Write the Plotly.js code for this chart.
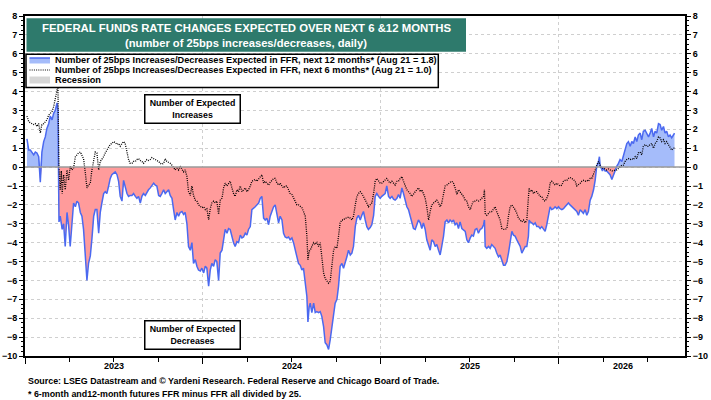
<!DOCTYPE html>
<html>
<head>
<meta charset="utf-8">
<script src="https://cdn.plot.ly/plotly-3.0.1.min.js"></script>
<style>html,body{margin:0;padding:0;background:#fff;}#chart{width:711px;height:400px;}</style>
</head>
<body>
<div id="chart"></div>
<script>
// x positions as fractional years (daily series)
const yearPos = [
2023.011,2023.021,2023.030,2023.039,2023.049,2023.058,2023.067,2023.077,2023.086,2023.095,
2023.105,2023.114,2023.123,2023.133,2023.142,2023.152,2023.161,2023.170,2023.180,2023.185,
2023.191,2023.198,2023.204,2023.209,2023.217,2023.226,2023.236,2023.245,2023.254,2023.264,
2023.273,2023.283,2023.292,2023.301,2023.311,2023.320,2023.329,2023.339,2023.348,2023.357,
2023.367,2023.376,2023.386,2023.395,2023.404,2023.414,2023.423,2023.432,2023.442,2023.451,
2023.460,2023.470,2023.479,2023.488,2023.498,2023.507,2023.517,2023.526,2023.535,2023.545,
2023.554,2023.563,2023.573,2023.582,2023.591,2023.601,2023.610,2023.620,2023.629,2023.638,
2023.648,2023.657,2023.666,2023.676,2023.685,2023.694,2023.704,2023.713,2023.723,2023.732,
2023.741,2023.751,2023.760,2023.769,2023.779,2023.788,2023.797,2023.807,2023.816,2023.826,
2023.835,2023.844,2023.854,2023.863,2023.872,2023.882,2023.891,2023.900,2023.910,2023.919,
2023.929,2023.938,2023.947,
2023.957,2023.966,2023.975,2023.985,2023.994,2024.004,2024.013,2024.022,2024.032,2024.041,
2024.050,2024.060,2024.069,2024.078,2024.088,2024.097,2024.107,2024.116,2024.125,2024.135,
2024.144,2024.153,2024.163,2024.172,2024.181,2024.191,2024.200,2024.210,2024.219,2024.228,
2024.238,2024.247,2024.256,2024.266,2024.275,2024.284,2024.294,2024.303,2024.313,2024.322,
2024.331,2024.341,2024.350,2024.359,2024.369,2024.378,2024.388,2024.397,2024.406,2024.416,
2024.425,2024.434,2024.444,2024.453,2024.462,2024.472,2024.481,2024.490,2024.500,2024.509,
2024.519,2024.528,2024.537,2024.547,2024.556,2024.565,2024.575,2024.584,2024.590,2024.597,
2024.603,2024.612,2024.622,2024.631,2024.640,2024.650,2024.659,2024.668,2024.678,2024.687,
2024.696,2024.706,2024.715,2024.725,2024.734,2024.743,2024.753,2024.762,2024.771,2024.781,
2024.790,2024.799,2024.809,2024.818,
2024.828,2024.837,2024.846,2024.856,2024.865,2024.874,2024.884,2024.893,2024.902,2024.912,
2024.921,2024.930,2024.940,2024.949,2024.959,2024.968,2024.977,2024.987,2024.996,2025.005,
2025.015,2025.024,2025.033,2025.043,2025.052,2025.062,2025.071,2025.080,2025.090,2025.099,
2025.108,2025.118,2025.127,2025.136,2025.146,2025.155,2025.165,2025.174,2025.183,2025.193,
2025.202,2025.211,2025.221,2025.230,2025.239,2025.249,2025.258,2025.268,2025.277,2025.286,
2025.296,2025.305,2025.314,2025.324,2025.333,2025.342,2025.352,2025.361,2025.371,2025.380,
2025.389,2025.399,2025.408,2025.417,2025.427,2025.436,2025.445,2025.455,2025.464,2025.474,
2025.483,2025.492,2025.502,2025.511,2025.520,2025.530,2025.539,2025.548,2025.558,2025.567,
2025.577,2025.582,2025.586,2025.595,2025.605,2025.614,2025.623,2025.633,2025.642,2025.651,
2025.661,2025.670,2025.680,2025.689,2025.698,2025.708,2025.717,2025.726,2025.736,2025.745,
2025.754,2025.764,2025.773,2025.783,2025.792,2025.801,2025.811,
2025.820,2025.829,2025.833,2025.839,2025.848,2025.858,2025.867,2025.876,2025.886,2025.895,
2025.904,2025.914,2025.923,2025.932,2025.942,2025.951,2025.960,2025.970,2025.979,2025.989,
2025.998,2026.007,2026.017,2026.026,2026.035,2026.045,2026.054,2026.063,2026.073,2026.082,
2026.092,2026.101,2026.110,2026.120,2026.129,2026.138,2026.148,2026.157,2026.166,2026.176,
2026.185,2026.195,2026.204,2026.213,2026.223,2026.228,2026.232,2026.238,2026.245,2026.251,
2026.260,2026.269,2026.279,2026.288,2026.298,2026.307,2026.316,2026.326,2026.335,2026.344,
2026.354,2026.363,2026.372,2026.382,2026.391,2026.401,2026.410,2026.419,2026.429,2026.438,
2026.447,2026.457,2026.466,2026.475,2026.485,2026.494,2026.504,2026.513,2026.522,2026.532,
2026.541,2026.550,2026.560,2026.569,2026.578,2026.588,2026.597,2026.606,2026.616,2026.625,
2026.634,2026.644,2026.650
];

// Number of 25bps increases/decreases expected, next 12 months
const next12m = [
1.5,0.9,0.9,0.8,0.65,0.8,0.75,0.55,-0.8,0.8,
1.35,1.6,2.05,2.3,2.7,2.5,2.85,3.0,3.4,3.0,
-2.9,-2.6,-3.2,-3.3,-3.0,-4.2,-2.4,-3.1,-4.2,-3.1,
-1.9,-2.1,-1.8,-1.9,-2.4,-2.6,-3.3,-4.7,-6.0,-5.1,
-4.7,-3.8,-2.6,-2.25,-2.25,-3.5,-2.4,-1.9,-1.4,-1.3,
-1.4,-1.0,-0.6,-0.4,-0.3,-0.25,-0.4,-0.75,-1.55,-1.8,
-0.7,-1.0,-1.4,-1.55,-1.5,-1.5,-1.4,-1.55,-1.65,-1.55,
-1.9,-1.55,-1.4,-1.5,-1.3,-1.2,-1.1,-1.0,-0.85,-0.95,
-1.0,-1.5,-1.55,-1.4,-1.2,-1.4,-1.3,-1.2,-1.5,-1.65,
-2.25,-2.8,-2.4,-2.6,-2.4,-2.35,-2.5,-2.4,-3.0,-4.2,
-4.4,-4.0,-5.1,
-4.9,-5.25,-5.45,-5.5,-5.35,-5.6,-5.25,-5.35,-6.3,-5.45,
-5.1,-5.25,-4.9,-5.0,-6.0,-4.55,-4.4,-3.85,-3.3,-3.5,
-3.25,-3.3,-3.7,-4.0,-4.2,-3.95,-4.0,-3.6,-3.75,-3.7,
-3.5,-3.6,-3.3,-3.15,-2.25,-2.2,-2.1,-2.0,-1.9,-1.65,
-1.55,-2.7,-2.8,-2.7,-3.05,-2.6,-2.35,-2.1,-2.0,-2.45,
-2.95,-2.6,-2.8,-3.5,-3.7,-3.75,-3.7,-3.85,-3.75,-4.0,
-4.4,-4.75,-5.1,-5.2,-5.45,-5.35,-6.0,-6.85,-8.2,-7.4,
-7.2,-7.7,-7.2,-7.7,-7.65,-7.7,-7.65,-7.9,-8.45,-9.3,
-9.4,-9.65,-9.15,-8.45,-7.55,-7.2,-7.0,-6.3,-5.25,-5.1,
-5.35,-5.1,-4.75,-4.4,
-4.65,-4.55,-4.2,-3.15,-2.7,-2.55,-2.8,-2.55,-2.35,-2.8,
-3.15,-3.3,-3.2,-3.05,-2.55,-1.55,-1.4,-1.55,-1.65,-1.55,
-1.45,-1.4,-1.0,-1.55,-1.65,-1.55,-1.7,-1.75,-1.65,-1.45,
-1.65,-1.1,-1.4,-1.75,-2.1,-2.25,-2.6,-2.8,-3.25,-3.3,
-3.05,-2.8,-2.95,-3.25,-2.95,-3.3,-3.85,-4.2,-4.4,-3.85,
-3.95,-4.2,-4.1,-4.4,-4.65,-4.2,-3.65,-2.9,-2.8,-2.95,
-2.8,-2.9,-2.8,-3.05,-2.95,-3.25,-2.9,-3.25,-3.3,-3.4,
-3.85,-4.0,-3.75,-3.6,-3.65,-3.3,-3.25,-3.5,-3.3,-3.25,
-3.05,-2.8,-4.2,-4.3,-4.2,-4.3,-4.1,-4.2,-4.3,-4.55,
-4.75,-4.65,-5.0,-5.2,-5.2,-5.0,-4.55,-4.0,-3.4,-3.6,
-3.65,-3.85,-4.0,-4.2,-4.55,-4.4,-4.2,
-4.2,-3.65,-2.8,-2.9,-2.95,-3.05,-2.95,-3.15,-3.15,-3.25,
-3.15,-3.3,-3.4,-3.05,-2.6,-2.1,-2.25,-2.2,-2.1,-2.2,
-2.1,-2.2,-2.25,-2.2,-2.1,-2.0,-1.9,-2.0,-2.1,-2.2,
-2.25,-2.35,-2.55,-2.25,-2.35,-2.45,-2.25,-2.55,-2.35,-1.75,
-1.55,-1.2,-0.7,0.05,0.3,0.55,0.1,-0.05,-0.2,-0.05,
-0.2,-0.2,-0.3,-0.4,-0.65,-0.4,-0.2,0.05,0.2,0.4,
0.3,0.65,0.9,1.25,1.35,1.1,1.35,1.25,1.6,1.35,
1.7,1.8,1.45,1.9,1.95,1.8,1.6,1.8,2.05,1.6,
1.9,1.8,2.3,2.25,1.95,2.15,1.8,1.9,1.6,1.7,
1.55,1.7,1.8
];

// Number of 25bps increases/decreases expected, next 6 months
const next6m = [
2.7,2.4,2.35,2.3,2.25,2.3,2.15,2.3,1.8,2.25,
2.3,2.4,2.5,2.75,2.85,2.95,3.2,3.55,4.1,4.3,
0.0,-1.2,-0.2,-1.4,-0.4,-1.2,-0.15,-0.7,0.05,-0.15,
-0.05,0.55,0.65,0.75,0.8,0.65,0.45,-0.3,-1.1,-0.95,
-0.85,-0.15,0.45,0.8,0.75,-0.15,0.3,0.4,0.55,0.75,
0.9,1.0,1.2,1.25,1.35,1.3,1.2,1.25,1.1,1.25,
1.35,1.25,0.75,0.4,0.2,0.2,0.3,0.3,0.4,0.45,
0.35,0.3,0.2,0.3,0.4,0.35,0.4,0.5,0.45,0.4,
0.35,0.3,0.2,0.15,0.2,0.45,0.3,0.25,0.2,0.1,
-0.05,-0.15,-0.05,-0.15,0.05,-0.15,-0.25,-0.15,-0.5,-1.3,
-1.5,-1.0,-1.5,
-1.75,-1.8,-2.0,-2.1,-2.15,-2.1,-2.25,-2.2,-2.8,-2.2,
-1.9,-1.8,-1.9,-1.8,-2.5,-1.75,-1.65,-1.1,-0.85,-1.0,
-0.85,-0.75,-1.1,-1.4,-1.55,-1.2,-1.3,-1.0,-1.3,-1.2,
-1.1,-1.3,-1.2,-1.0,-0.75,-0.7,-0.65,-0.75,-0.6,-0.5,
-0.4,-0.85,-0.75,-0.85,-0.95,-0.8,-0.7,-0.6,-0.6,-0.85,
-0.95,-0.85,-1.0,-1.1,-1.0,-1.0,-1.2,-1.4,-1.45,-1.65,
-1.8,-2.0,-2.0,-2.1,-2.15,-2.35,-2.6,-3.65,-4.9,-4.45,
-4.4,-4.2,-4.0,-4.1,-3.95,-4.2,-4.0,-4.75,-5.6,-5.9,
-6.0,-6.15,-6.05,-5.25,-4.4,-4.2,-4.3,-3.65,-2.95,-2.8,
-2.8,-2.7,-2.7,-2.65,
-2.7,-2.8,-2.6,-2.0,-1.55,-1.4,-1.3,-1.4,-1.55,-1.75,
-1.9,-2.1,-2.0,-1.9,-1.4,-0.75,-0.6,-0.75,-0.85,-0.85,
-0.75,-0.7,-0.6,-0.75,-0.85,-0.75,-0.85,-0.95,-0.75,-0.75,
-0.6,-0.5,-0.75,-1.0,-1.2,-1.3,-1.4,-1.55,-1.4,-1.3,
-1.2,-1.1,-1.3,-1.2,-1.4,-1.65,-2.1,-2.8,-2.35,-2.0,
-1.9,-1.8,-1.75,-1.9,-2.1,-1.9,-1.4,-1.0,-0.95,-0.85,
-0.8,-0.75,-0.85,-1.1,-1.45,-1.2,-1.3,-1.4,-1.55,-1.75,
-1.8,-2.1,-2.25,-2.0,-1.8,-1.8,-1.75,-1.8,-1.75,-1.65,
-1.55,-1.2,-2.45,-2.55,-2.45,-2.35,-2.35,-2.2,-2.1,-2.35,
-2.55,-2.8,-3.25,-3.3,-3.3,-3.25,-2.6,-2.1,-2.0,-2.1,
-2.25,-2.45,-2.7,-2.8,-2.9,-2.8,-2.95,
-2.8,-1.75,-1.1,-1.3,-1.2,-1.4,-1.3,-1.3,-1.45,-1.55,
-1.55,-1.75,-1.8,-1.65,-1.4,-0.85,-0.75,-0.85,-0.95,-0.85,
-0.95,-1.0,-0.95,-0.75,-0.7,-0.7,-0.6,-0.55,-0.6,-0.7,
-0.75,-1.0,-0.95,-0.85,-0.75,-0.7,-0.75,-0.7,-0.75,-0.6,
-0.6,-0.4,-0.15,0.1,0.3,0.2,0.05,-0.05,-0.05,-0.05,
-0.1,-0.15,-0.1,-0.15,-0.2,-0.2,-0.15,-0.15,-0.05,0.05,
0.1,0.1,0.3,0.4,0.45,0.4,0.45,0.4,0.55,0.45,
0.75,0.8,0.65,1.1,1.2,1.1,1.1,1.2,1.25,1.0,
1.25,1.35,1.6,1.55,1.35,1.45,1.25,1.35,1.2,1.1,
0.9,1.0,1.0
];

const yearTicks = [2023, 2024, 2025, 2026];
const quarterTicks = [2023.25,2023.5,2023.75,2024.25,2024.5,2024.75,2025.25,2025.5,2025.75,2026.25,2026.5];
const yearLabels = ['2023','2024','2025','2026'];
const yearLabelPos = [2023.5, 2024.5, 2025.5, 2026.36];

const FONT = 'Arial, "Liberation Sans", sans-serif';
const abovePart = next12m.map(v => Math.max(v, 0));
const belowPart = next12m.map(v => Math.min(v, 0));

const traces = [
  {x: yearPos, y: belowPart, type: 'scatter', mode: 'lines', fill: 'tozeroy',
   fillcolor: 'rgb(255,155,155)', line: {width: 0, color: 'rgba(0,0,0,0)'}, showlegend: false, hoverinfo: 'skip'},
  {x: yearPos, y: abovePart, type: 'scatter', mode: 'lines', fill: 'tozeroy',
   fillcolor: 'rgb(165,188,250)', line: {width: 0, color: 'rgba(0,0,0,0)'}, showlegend: false, hoverinfo: 'skip'},
  {x: yearPos, y: next12m, type: 'scatter', mode: 'lines',
   line: {width: 1.5, color: 'rgb(75,105,240)'}, showlegend: false},
  {x: yearPos, y: next6m, type: 'scatter', mode: 'lines', yaxis: 'y2',
   line: {width: 1.3, color: '#000', dash: '1px,1.2px'}, showlegend: false}
];

const px = v => (v - 25) / 660;      // paper x from pixel
const py = v => (356 - v) / 340;     // paper y from pixel

const shapes = [
  {type: 'line', xref: 'paper', yref: 'y', x0: 0, x1: 1, y0: 0, y1: 0, line: {color: '#9a9a9a', width: 1.5}},
  {type: 'rect', xref: 'paper', yref: 'paper', x0: px(26.5), x1: px(466), y0: py(51.7), y1: py(18.3),
   fillcolor: '#2e7a6c', line: {width: 0}},
  {type: 'rect', xref: 'paper', yref: 'paper', x0: px(26), x1: px(438.3), y0: py(87.5), y1: py(54.3),
   fillcolor: '#fff', line: {color: '#000', width: 1.5}},
  {type: 'rect', xref: 'paper', yref: 'paper', x0: px(29.5), x1: px(50), y0: py(63.5), y1: py(58),
   fillcolor: 'rgb(165,188,250)', line: {width: 0}},
  {type: 'line', xref: 'paper', yref: 'paper', x0: px(29.5), x1: px(50), y0: py(58), y1: py(58),
   line: {color: 'rgb(75,105,240)', width: 1.5}},
  {type: 'line', xref: 'paper', yref: 'paper', x0: px(29.5), x1: px(50), y0: py(70), y1: py(70),
   line: {color: '#000', width: 1.2, dash: '1px,1.2px'}},
  {type: 'rect', xref: 'paper', yref: 'paper', x0: px(29.5), x1: px(50), y0: py(83.5), y1: py(76.5),
   fillcolor: '#d6d6d6', line: {width: 0}}
];

const ann = [];
ann.push({xref: 'paper', yref: 'paper', x: px(246), y: py(27.7), xanchor: 'center', yanchor: 'middle',
  text: '<b>FEDERAL FUNDS RATE CHANGES EXPECTED OVER NEXT 6 &12 MONTHS</b>', showarrow: false,
  font: {family: FONT, size: 11.4, color: '#fff'}});
ann.push({xref: 'paper', yref: 'paper', x: px(246), y: py(43.3), xanchor: 'center', yanchor: 'middle',
  text: '<b>(number of 25bps increases/decreases, daily)</b>', showarrow: false,
  font: {family: FONT, size: 11.2, color: '#fff'}});
const legendTexts = [
  'Number of 25bps Increases/Decreases Expected in FFR, next 12 months* (Aug 21 = 1.8)',
  'Number of 25bps Increases/Decreases Expected in FFR, next 6 months* (Aug 21 = 1.0)',
  'Recession'
];
const legendRows = [60.3, 70.3, 80.3];
legendTexts.forEach((t, i) => ann.push({xref: 'paper', yref: 'paper', x: px(52.5), y: py(legendRows[i]),
  xanchor: 'left', yanchor: 'middle', text: '<b>' + t + '</b>', showarrow: false,
  font: {family: FONT, size: 9.2, color: '#000'}}));
ann.push({xref: 'paper', yref: 'paper', x: px(193), y: py(109.2), xanchor: 'center', yanchor: 'middle',
  text: '<b>Number of Expected<br>Increases</b>', showarrow: false, bgcolor: '#fff',
  bordercolor: '#000', borderwidth: 1.5, borderpad: 2, width: 90, height: 23,
  font: {family: FONT, size: 8.8, color: '#000'}});
ann.push({xref: 'paper', yref: 'paper', x: px(193), y: py(334.7), xanchor: 'center', yanchor: 'middle',
  text: '<b>Number of Expected<br>Decreases</b>', showarrow: false, bgcolor: '#fff',
  bordercolor: '#000', borderwidth: 1.5, borderpad: 2, width: 90, height: 23,
  font: {family: FONT, size: 8.8, color: '#000'}});
yearLabels.forEach((t, i) => ann.push({xref: 'x', yref: 'paper', x: yearLabelPos[i], y: py(366.5),
  xanchor: 'center', yanchor: 'middle', text: '<b>' + t + '</b>', showarrow: false,
  font: {family: FONT, size: 9, color: '#000'}}));
ann.push({xref: 'paper', yref: 'paper', x: px(25.5), y: py(381), xanchor: 'left', yanchor: 'middle',
  text: '<b>Source: LSEG Datastream and © Yardeni Research. Federal Reserve and Chicago Board of Trade.</b>',
  showarrow: false, font: {family: FONT, size: 8.9, color: '#000'}});
ann.push({xref: 'paper', yref: 'paper', x: px(25.5), y: py(394), xanchor: 'left', yanchor: 'middle',
  text: '<b>* 6-month and12-month futures FFR minus FFR all divided by 25.</b>',
  showarrow: false, font: {family: FONT, size: 8.9, color: '#000'}});

const yCommon = {
  range: [-10, 8], tickmode: 'linear', tick0: 0, dtick: 1, ticks: 'outside', ticklen: 4,
  tickcolor: '#000', tickwidth: 1, showline: true, linecolor: '#000', linewidth: 2,
  zeroline: false, tickfont: {family: FONT, size: 9, color: '#000', weight: 'bold'},
  minor: {dtick: 0.25, ticks: 'outside', ticklen: 2, tickcolor: '#000', showgrid: false}
};

const layout = {
  width: 711, height: 400,
  margin: {l: 25, r: 26, t: 16, b: 44, pad: 0},
  paper_bgcolor: '#fff', plot_bgcolor: '#fff',
  showlegend: false,
  font: {family: FONT, color: '#000'},
  xaxis: {
    type: 'linear', range: [2023.0, 2026.709], tickmode: 'array', tickvals: yearTicks,
    ticktext: ['', '', '', ''], ticks: 'outside', ticklen: 6, tickcolor: '#000', tickwidth: 1,
    showgrid: true, gridcolor: '#cfcfcf', griddash: 'dot', gridwidth: 1,
    zeroline: false, showline: true, linecolor: '#000', linewidth: 2, mirror: true,
    minor: {tickmode: 'array', tickvals: quarterTicks, ticks: 'outside', ticklen: 4, tickcolor: '#000', showgrid: false}
  },
  yaxis: Object.assign({}, yCommon, {side: 'left', showgrid: true, gridcolor: '#cfcfcf', griddash: 'dot', gridwidth: 1}),
  yaxis2: Object.assign({}, yCommon, {side: 'right', overlaying: 'y', showgrid: false}),
  shapes: shapes,
  annotations: ann
};

Plotly.newPlot('chart', traces, layout, {staticPlot: true, displayModeBar: false});
</script>
</body>
</html>
